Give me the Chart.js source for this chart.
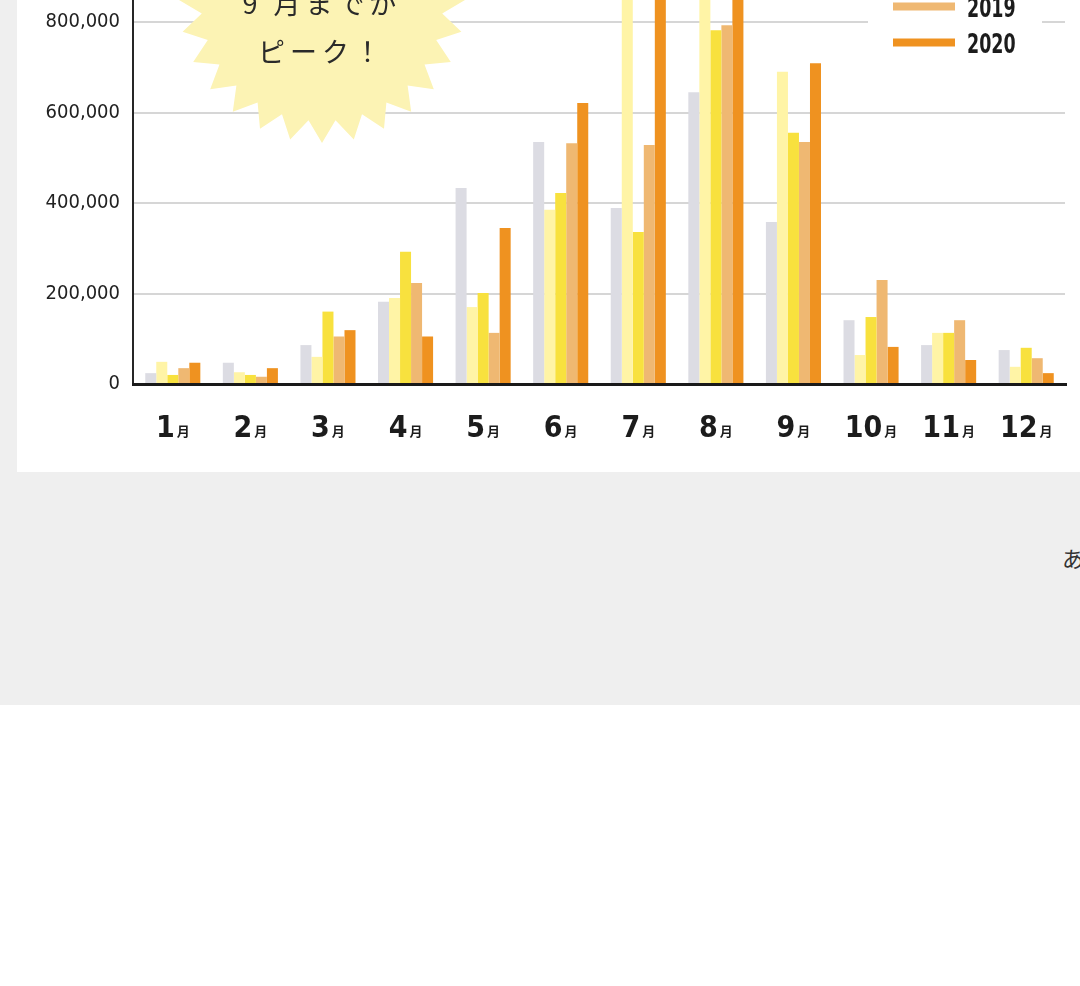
<!DOCTYPE html>
<html lang="ja">
<head>
<meta charset="utf-8">
<script src="https://cdn.jsdelivr.net/npm/chart.js@4/dist/chart.umd.min.js"></script>
<style>
  html, body { margin: 0; padding: 0; background: #ffffff; }
  #page { position: relative; width: 1080px; height: 986px; overflow: hidden; background: #ffffff; }
  #grayband { position: absolute; left: 0; top: 0; width: 1080px; height: 705px; background: #efefef; }
  #card { position: absolute; left: 17px; top: 0; width: 1080px; height: 472px; background: #ffffff; }
  #c { position: absolute; left: 0; top: -200px; }
  #star { position: absolute; left: 0; top: 0; }
  .startext { position: absolute; left: 200px; width: 244px; text-align: center;
    font-family: "Noto Sans CJK JP", "Noto Sans", sans-serif; font-size: 27px; color: #2a2a2a;
    letter-spacing: 5px; line-height: 30px; white-space: nowrap; }
  #caption { position: absolute; left: 1062px; top: 541px; font-family: "Noto Sans CJK JP", sans-serif;
    font-size: 22px; color: #333; white-space: nowrap; }
</style>
</head>
<body>
<div id="page">
  <div id="grayband"></div>
  <div id="card"></div>
  <canvas id="c" width="1080" height="700"></canvas>
  <svg id="star" width="1080" height="200"><polygon id="starpoly" fill="#fcf3b4"></polygon></svg>
  <div class="startext" style="top:-12px;">9 月までが</div>
  <div class="startext" style="top:36px;">ピーク！</div>
  <div id="caption">あ</div>
</div>
<script>
// ---- data ----
const months = ['1', '2', '3', '4', '5', '6', '7', '8', '9', '10', '11', '12'];
const monthSuffix = '月';
const seriesNames = ['2016', '2017', '2018', '2019', '2020'];
const v2016 = [24000, 47000, 86000, 182000, 433000, 535000, 389000, 645000, 358000, 141000, 86000, 75000];
const v2017 = [49000, 26000, 60000, 190000, 170000, 385000, 1000000, 1050000, 690000, 64000, 113000, 38000];
const v2018 = [20000, 20000, 160000, 292000, 201000, 422000, 336000, 782000, 555000, 148000, 113000, 80000];
const v2019 = [35000, 16000, 105000, 223000, 113000, 532000, 528000, 793000, 535000, 230000, 141000, 57000];
const v2020 = [47000, 35000, 119000, 105000, 345000, 621000, 960000, 1000000, 709000, 82000, 53000, 24000];
const yTicks = [0, 200000, 400000, 600000, 800000, 1000000, 1200000];
const colors = ['#dcdce3', '#fff4a6', '#f8e13e', '#efb872', '#ef9220'];

// ---- star decoration ----
(function () {
  const cx = 322, cy = 0, rOut = 143, rIn = 121, n = 28, pts = [];
  for (let i = 0; i < n * 2; i++) {
    const r = i % 2 === 0 ? rOut : rIn;
    const a = (Math.PI * 2 * i) / (n * 2) + Math.PI / 2;
    pts.push((cx + r * Math.cos(a)).toFixed(1) + ',' + (cy + r * Math.sin(a)).toFixed(1));
  }
  document.getElementById('starpoly').setAttribute('points', pts.join(' '));
})();

const valueSets = [v2016, v2017, v2018, v2019, v2020];
const datasets = seriesNames.map((name, i) => ({
  label: name,
  data: valueSets[i],
  backgroundColor: colors[i],
  borderWidth: 0,
  categoryPercentage: 0.71,
  barPercentage: 1.0
}));

const condensed = '"DejaVu Sans Condensed", "Liberation Sans Narrow", "DejaVu Sans", sans-serif';

const axisLines = {
  id: 'axisLines',
  afterDatasetsDraw(chart) {
    const { ctx, chartArea } = chart;
    ctx.save();
    ctx.strokeStyle = '#262626';
    ctx.lineWidth = 2;
    ctx.beginPath();
    ctx.moveTo(chartArea.left - 1, 0);
    ctx.lineTo(chartArea.left - 1, chartArea.bottom);
    ctx.stroke();
    ctx.lineWidth = 3;
    ctx.strokeStyle = '#1a1a1a';
    ctx.beginPath();
    ctx.moveTo(chartArea.left - 2, chartArea.bottom + 0.5);
    ctx.lineTo(chartArea.right + 2, chartArea.bottom + 0.5);
    ctx.stroke();
    ctx.restore();
  }
};

const monthLabels = {
  id: 'monthLabels',
  afterDraw(chart) {
    const { ctx, chartArea } = chart;
    const xs = chart.scales.x;
    const base = chartArea.bottom + 53;
    ctx.save();
    ctx.fillStyle = '#1c1c1c';
    ctx.textBaseline = 'alphabetic';
    ctx.textAlign = 'left';
    months.forEach((m, i) => {
      const x = xs.getPixelForTick(i);
      ctx.font = 'bold 30px ' + condensed;
      const w1 = ctx.measureText(m).width;
      ctx.font = 'bold 13px "Noto Sans CJK JP", sans-serif';
      const w2 = ctx.measureText(monthSuffix).width;
      const start = x - (w1 + w2 + 2) / 2;
      ctx.font = 'bold 30px ' + condensed;
      ctx.fillText(m, start, base);
      ctx.font = 'bold 13px "Noto Sans CJK JP", sans-serif';
      ctx.fillText(monthSuffix, start + w1 + 2, base - 1);
    });
    ctx.restore();
  }
};

const legendBox = {
  id: 'legendBox',
  afterDraw(chart) {
    const { ctx } = chart;
    const off = 200; // canvas top offset relative to page
    const spacing = 36;
    const last = chart.data.datasets.length - 1;
    ctx.save();
    ctx.fillStyle = '#ffffff';
    ctx.fillRect(868, -160 + off, 174, 220);
    chart.data.datasets.forEach((ds, i) => {
      const cy = 42.5 - (last - i) * spacing + off;
      ctx.fillStyle = ds.backgroundColor;
      ctx.fillRect(893, cy - 4, 62, 8);
      ctx.save();
      ctx.fillStyle = '#1c1c1c';
      ctx.font = 'bold 27px ' + condensed;
      ctx.textBaseline = 'alphabetic';
      ctx.translate(967, cy + 10.5);
      ctx.scale(0.72, 1);
      ctx.fillText(ds.label, 0, 0);
      ctx.restore();
    });
    ctx.restore();
  }
};

new Chart(document.getElementById('c'), {
  type: 'bar',
  data: { labels: months.map(m => m + monthSuffix), datasets },
  options: {
    responsive: false,
    animation: false,
    devicePixelRatio: 1,
    layout: { padding: { left: 0, right: 15, top: 41, bottom: 116 } },
    plugins: { legend: { display: false }, tooltip: { enabled: false } },
    scales: {
      x: {
        grid: { display: false, drawTicks: false },
        border: { display: false },
        ticks: { display: false },
        afterFit(s) { s.height = 0; }
      },
      y: {
        min: 0,
        max: 1200000,
        afterBuildTicks(s) { s.ticks = yTicks.map(v => ({ value: v })); },
        grid: { color: '#d6d6d6', lineWidth: 2, drawTicks: false },
        border: { display: false },
        ticks: {
          padding: 14,
          color: '#222222',
          font: { family: condensed, size: 20 },
          callback: v => Number(v).toLocaleString('en-US')
        },
        afterFit(s) { s.width = 134; }
      }
    }
  },
  plugins: [axisLines, monthLabels, legendBox]
});
</script>
</body>
</html>
